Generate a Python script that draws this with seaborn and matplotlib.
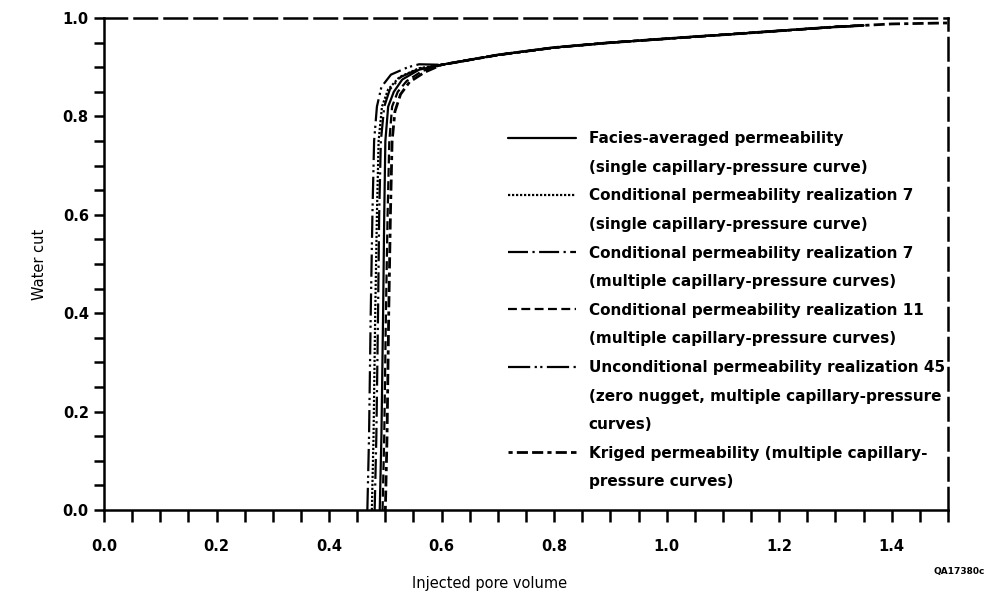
import matplotlib
matplotlib.use("Agg")
import matplotlib.pyplot as plt
import numpy as np
import pandas as pd
import seaborn as sns
from matplotlib.lines import Line2D
from matplotlib.ticker import MultipleLocator

# Shared tail of the curves (after breakthrough)
tail_x = [0.60, 0.70, 0.80, 0.90, 1.00, 1.10, 1.20, 1.30, 1.35]
tail_y = [0.905, 0.925, 0.940, 0.950, 0.958, 0.966, 0.974, 0.982, 0.985]

# steep front of each curve
facies_x = [0.490, 0.493, 0.496, 0.498, 0.500, 0.505, 0.515, 0.530, 0.560]
facies_y = [0.0, 0.15, 0.40, 0.60, 0.75, 0.82, 0.85, 0.875, 0.895]

cond7s_x = [0.476, 0.479, 0.482, 0.485, 0.488, 0.494, 0.505, 0.525, 0.560]
cond7s_y = [0.0, 0.15, 0.40, 0.60, 0.75, 0.82, 0.855, 0.88, 0.898]

cond7m_x = [0.481, 0.484, 0.487, 0.489, 0.492, 0.498, 0.508, 0.527, 0.560]
cond7m_y = [0.0, 0.15, 0.40, 0.60, 0.75, 0.82, 0.855, 0.88, 0.897]

cond11_x = [0.495, 0.498, 0.501, 0.504, 0.507, 0.512, 0.522, 0.538, 0.565]
cond11_y = [0.0, 0.15, 0.40, 0.60, 0.75, 0.82, 0.85, 0.872, 0.892]

uncond45_x = [0.468, 0.471, 0.474, 0.477, 0.480, 0.485, 0.493, 0.510, 0.540, 0.560]
uncond45_y = [0.0, 0.15, 0.40, 0.60, 0.75, 0.82, 0.86, 0.885, 0.90, 0.906]

kriged_x = [0.500, 0.503, 0.506, 0.509, 0.512, 0.517, 0.527, 0.543, 0.570]
kriged_y = [0.0, 0.15, 0.40, 0.60, 0.75, 0.81, 0.845, 0.87, 0.89]
kriged_tail_x = [1.40, 1.45, 1.50]
kriged_tail_y = [0.988, 0.989, 0.990]

labels = [
    "Facies-averaged permeability\n(single capillary-pressure curve)",
    "Conditional permeability realization 7\n(single capillary-pressure curve)",
    "Conditional permeability realization 7\n(multiple capillary-pressure curves)",
    "Conditional permeability realization 11\n(multiple capillary-pressure curves)",
    "Unconditional permeability realization 45\n(zero nugget, multiple capillary-pressure\ncurves)",
    "Kriged permeability (multiple capillary-\npressure curves)",
]

styles = [
    "-",
    (0, (1, 0.8)),
    (0, (9, 2, 1, 2)),
    (0, (4, 2)),
    (0, (10, 2, 1, 1.5, 1, 2)),
    (0, (1.5, 1.5, 4, 1.5, 4, 1.5)),
]

fronts = [
    (facies_x, facies_y),
    (cond7s_x, cond7s_y),
    (cond7m_x, cond7m_y),
    (cond11_x, cond11_y),
    (uncond45_x, uncond45_y),
    (kriged_x, kriged_y),
]

sns.set_theme(style="ticks")
plt.rcParams["font.family"] = ["DejaVu Sans"]
plt.rcParams["text.color"] = "black"
plt.rcParams["axes.labelcolor"] = "black"

fig = plt.figure(figsize=(9.87, 5.91), dpi=100)
ax = fig.add_axes([0.1054, 0.137, 0.8551, 0.8325])

for i, (fx, fy) in enumerate(fronts):
    xs = list(fx) + tail_x
    ys = list(fy) + tail_y
    if i == 5:
        xs += kriged_tail_x
        ys += kriged_tail_y
    df = pd.DataFrame({"x": xs, "y": ys})
    sns.lineplot(data=df, x="x", y="y", ax=ax, color="black", linestyle=styles[i],
                 linewidth=1.6 if i != 5 else 2.0, sort=False, estimator=None)

ax.set_xlim(0, 1.5)
ax.set_ylim(0, 1.0)
ax.xaxis.set_major_locator(MultipleLocator(0.05))
ax.yaxis.set_major_locator(MultipleLocator(0.05))
ax.xaxis.set_major_formatter(lambda v, p: f"{v:.1f}" if round(v * 100) % 20 == 0 else "")
ax.yaxis.set_major_formatter(lambda v, p: f"{v:.1f}" if round(v * 100) % 20 == 0 else "")
ax.tick_params(axis="x", direction="out", length=8.5, width=1.8, pad=12,
               labelsize=10.5, colors="black")
ax.tick_params(axis="y", direction="out", length=7, width=1.8, pad=4,
               labelsize=10.5, colors="black")
for lab in ax.get_xticklabels() + ax.get_yticklabels():
    lab.set_fontweight("bold")

for side in ["left", "bottom", "top", "right"]:
    ax.spines[side].set_visible(True)
    ax.spines[side].set_color("black")
    ax.spines[side].set_linewidth(1.8)
ax.spines["top"].set_linestyle((0, (9, 3)))
ax.spines["right"].set_linestyle((0, (9, 3)))

ax.set_xlabel("Injected pore volume", fontsize=10.5, fontweight="medium")
ax.set_ylabel("Water cut", fontsize=10.5, fontweight="medium")
ax.xaxis.set_label_coords((490 - 104) / 844, -0.135)
ax.yaxis.set_label_coords(-0.068, 0.5)

# legend: one row per text line, blank handles on continuation lines
handles, texts = [], []
for i, lab in enumerate(labels):
    parts = lab.split("\n")
    handles.append(Line2D([], [], color="black", linestyle=styles[i],
                          linewidth=1.6 if i != 5 else 2.0))
    texts.append(parts[0])
    for p in parts[1:]:
        handles.append(Line2D([], [], color="none"))
        texts.append(p)
leg = ax.legend(handles, texts, loc="upper left", bbox_to_anchor=(0.479, 0.77),
                frameon=False, handlelength=4.4, handletextpad=0.85,
                labelspacing=0.89, borderpad=0, borderaxespad=0,
                prop={"weight": "bold", "size": 11})

fig.text(0.998, 0.025, "QA17380c", ha="right", va="bottom", fontsize=6.5,
         fontweight="bold")

fig.savefig("out.png", dpi=100)
